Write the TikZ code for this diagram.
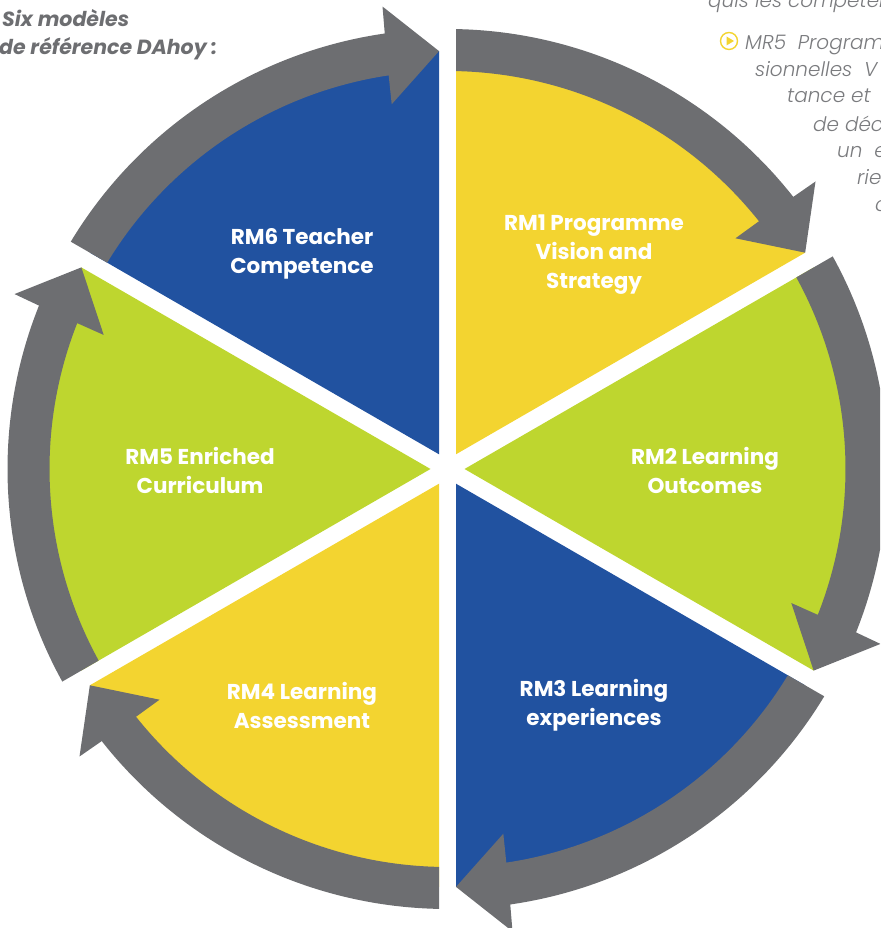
\documentclass[tikz,border=0pt]{standalone}
\usepackage{fontspec}
\setmainfont{Poppins}
\newfontfamily\lightit{Poppins Light Italic}
\definecolor{yel}{HTML}{F3D430}
\definecolor{grn}{HTML}{BED62F}
\definecolor{blu}{HTML}{2152A0}
\definecolor{gry}{HTML}{6D6E71}
\definecolor{txtg}{HTML}{7A7B7E}
\tikzset{
  rmlabel/.style={text=white, align=center, font=\fontsize{21.5}{29}\selectfont\bfseries, inner sep=0pt},
  sidetext/.style={text=txtg, anchor=base west, font=\fontsize{20}{28}\selectfont\lightit, inner sep=0pt},
  headtext/.style={text=gry, anchor=base west, font=\fontsize{20.5}{28}\selectfont\bfseries\itshape, inner sep=0pt},
}
\begin{document}
\begin{tikzpicture}
\useasboundingbox (0,0) rectangle (880pt,928pt);
\clip (0,0) rectangle (880pt,928pt);
\begin{scope}[shift={(447.5pt,459pt)}]
  \foreach \lo/\col in {30/yel,-30/grn,-90/blu,-150/yel,150/grn,90/blu}{
    \pgfmathsetmacro\hi{\lo+60}
    \fill[\col] ({\lo+30}:17pt) -- ({\hi-1.165}:418pt)
      arc[start angle={\hi-1.165}, end angle={\lo+1.165}, radius=418pt] -- cycle;
  }
  \foreach \lo in {30,-30,-90,-150,150,90}{
    \pgfmathsetmacro\hi{\lo+60}
    \fill[gry] ({\hi-1.107}:440pt)
      arc[start angle={\hi-1.107}, end angle={\lo+8.2}, radius=440pt]
      -- ({\lo+8.0}:467pt) -- ({\lo+1.165}:418pt) -- ({\lo+8.7}:369pt)
      -- ({\lo+8.5}:398pt)
      arc[start angle={\lo+8.5}, end angle={\hi-1.224}, radius=398pt] -- cycle;
  }
\end{scope}
\node[rmlabel] (rm1) at (594pt,673pt) {RM1 Programme\\Vision and\\Strategy};
\node[rmlabel] (rm2) at (705pt,458pt) {RM2 Learning\\Outcomes};
\node[rmlabel] (rm3) at (594pt,223pt) {RM3 Learning\\experiences};
\node[rmlabel] (rm4) at (302pt,223pt) {RM4 Learning\\Assessment};
\node[rmlabel] (rm5) at (200pt,458pt) {RM5 Enriched\\Curriculum};
\node[rmlabel] (rm6) at (302pt,674pt) {RM6 Teacher\\Competence};
\node[headtext] (h1) at (2pt,901pt) {Six modèles};
\node[headtext] (h2) at (-1pt,873pt) {de référence DAhoy :};
\node[sidetext] (s0) at (708pt,920pt) {quis les compéten};
\node[draw=yel, line width=1.4pt, circle, minimum size=17pt, inner sep=0pt] (ic) at (729pt,887pt) {};
\fill[yel] ([xshift=-2.5pt,yshift=4.5pt]ic.center) -- ([xshift=5pt]ic.center) -- ([xshift=-2.5pt,yshift=-4.5pt]ic.center) -- cycle;
\node[sidetext] (s1) at (745pt,878pt) {MR5\ \ Program};
\node[sidetext] (s2) at (755pt,851pt) {sionnelles\ \ V};
\node[sidetext] (s3) at (787pt,825pt) {tance et};
\node[sidetext] (s4) at (813pt,796pt) {de déc};
\node[sidetext] (s5) at (837pt,770pt) {un\ \ e};
\node[sidetext] (s6) at (857pt,743pt) {rie};
\node[sidetext] (s7) at (875pt,716pt) {c};
\end{tikzpicture}
\end{document}
